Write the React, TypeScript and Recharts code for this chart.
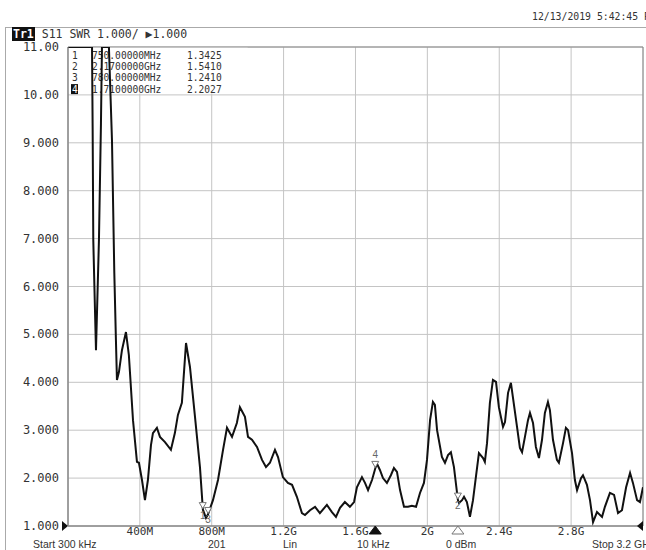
import React from "react";
import {
  LineChart,
  Line,
  XAxis,
  YAxis,
  CartesianGrid,
  ReferenceArea,
  ReferenceDot,
} from "recharts";

// Frequency (GHz) of each read trace point
const freqGHz = [
  0.0003, 0.134, 0.1375, 0.141, 0.15, 0.156, 0.1725, 0.1837, 0.1893, 0.228,
  0.245, 0.258, 0.267, 0.2727, 0.284, 0.3005, 0.3228, 0.339, 0.362, 0.384,
  0.395, 0.412, 0.4285, 0.445, 0.462, 0.473, 0.495, 0.512, 0.54, 0.573,
  0.595, 0.612, 0.634, 0.657, 0.679, 0.707, 0.7346, 0.751, 0.768, 0.779,
  0.807, 0.835, 0.863, 0.885, 0.913, 0.94, 0.957, 0.985, 1.002, 1.024,
  1.052, 1.08, 1.102, 1.124, 1.152, 1.169, 1.196, 1.224, 1.247, 1.274,
  1.302, 1.319, 1.347, 1.375, 1.402, 1.441, 1.469, 1.4915, 1.514, 1.541,
  1.569, 1.592, 1.608, 1.636, 1.653, 1.67, 1.692, 1.71, 1.72, 1.736,
  1.753, 1.775, 1.797, 1.814, 1.831, 1.848, 1.87, 1.892, 1.914, 1.937,
  1.959, 1.981, 1.998, 2.015, 2.031, 2.042, 2.054, 2.081, 2.098, 2.115,
  2.131, 2.148, 2.17, 2.176, 2.193, 2.204, 2.22, 2.237, 2.254, 2.27,
  2.287, 2.31, 2.32, 2.332, 2.348, 2.365, 2.382, 2.398, 2.421, 2.432,
  2.449, 2.465, 2.476, 2.499, 2.515, 2.527, 2.543, 2.56, 2.571, 2.588,
  2.604, 2.621, 2.638, 2.654, 2.671, 2.682, 2.699, 2.721, 2.732, 2.755,
  2.771, 2.783, 2.805, 2.821, 2.833, 2.855, 2.866, 2.888, 2.905, 2.922,
  2.944, 2.972, 2.988, 3.016, 3.039, 3.061, 3.083, 3.106, 3.128, 3.144,
  3.167, 3.183, 3.2,
];

// SWR values (display clamps at 11.00)
const swr = [
  11, 11, 9.27, 6.97, 5.57, 4.67, 6.97, 9.41, 11, 11,
  9.06, 6.28, 4.88, 4.05, 4.22, 4.67, 5.05, 4.57, 3.21, 2.34,
  2.32, 1.96, 1.54, 1.96, 2.69, 2.94, 3.05, 2.86, 2.75, 2.59,
  2.94, 3.32, 3.57, 4.82, 4.32, 3.28, 2.23, 1.34, 1.17, 1.24,
  1.54, 1.96, 2.59, 3.05, 2.86, 3.15, 3.48, 3.28, 2.86, 2.8,
  2.65, 2.38, 2.23, 2.32, 2.59, 2.44, 2.02, 1.9, 1.86, 1.61,
  1.27, 1.23, 1.33, 1.4, 1.27, 1.44, 1.29, 1.19, 1.38, 1.5,
  1.4, 1.5, 1.81, 2.02, 1.9, 1.75, 1.96, 2.2, 2.3, 2.17,
  2.0, 1.9, 2.06, 2.21, 2.13, 1.75, 1.4, 1.4, 1.42, 1.4,
  1.69, 1.9, 2.38, 3.21, 3.59, 3.53, 3.0, 2.44, 2.32, 2.48,
  2.54, 2.23, 1.54, 1.48, 1.54, 1.61, 1.5, 1.19, 1.54, 2.02,
  2.52, 2.42, 2.34, 2.73, 3.57, 4.05, 4.01, 3.48, 3.07, 3.17,
  3.78, 3.99, 3.69, 3.07, 2.63, 2.54, 2.86, 3.21, 3.36, 3.15,
  2.65, 2.42, 2.8, 3.36, 3.59, 3.42, 2.8, 2.38, 2.32, 2.73,
  3.05, 3.0, 2.52, 1.96, 1.75, 2.0, 2.06, 1.86, 1.54, 1.08,
  1.29, 1.19, 1.4, 1.69, 1.65, 1.27, 1.33, 1.81, 2.11, 1.9,
  1.54, 1.5, 1.81,
];

// Markers
const markerIds = ["1", "2", "3", "4"];
const markerFreqGHz = [0.75, 2.17, 0.78, 1.71];
const markerSwr = [1.3425, 1.541, 1.241, 2.2027];

// Axis ticks
const xTicks = [0.4, 0.8, 1.2, 1.6, 2.0, 2.4, 2.8];
const xTickLabels = ["400M", "800M", "1.2G", "1.6G", "2G", "2.4G", "2.8G"];
const yTicks = [1, 2, 3, 4, 5, 6, 7, 8, 9, 10, 11];
const yTickLabels = [
  "1.000", "2.000", "3.000", "4.000", "5.000", "6.000",
  "7.000", "8.000", "9.000", "10.00", "11.00",
];

// Header / footer texts
const headerTrace = "Tr1";
const headerText = "S11 SWR 1.000/ \u25B61.000";
const dateText = "12/13/2019 5:42:45 PM";
const footerTexts = ["Start 300 kHz", "201", "Lin", "10 kHz", "0 dBm", "Stop 3.2 GHz"];

const data = freqGHz.map((f, i) => ({ f, swr: swr[i] }));

const MONO = "'DejaVu Sans Mono', 'Liberation Mono', monospace";
const SANS = "'Liberation Sans', Arial, sans-serif";

const fmtFreq = (f: number) =>
  f < 1 ? (f * 1000).toFixed(5) + "MHz" : f.toFixed(7) + "GHz";

const YTick = (props: any) => {
  const { x, y, payload } = props;
  const i = yTicks.indexOf(payload.value);
  return (
    <g>
      <text
        x={x - 1}
        y={y}
        textAnchor="end"
        dominantBaseline="central"
        fontFamily={MONO}
        fontSize={12}
        fill="#333"
      >
        {yTickLabels[i]}
      </text>
      {payload.value === 1 ? (
        <polygon
          points={`${x + 2},${y - 5} ${x + 8},${y} ${x + 2},${y + 5}`}
          fill="#111"
        />
      ) : null}
    </g>
  );
};

const TableLabel = (props: any) => {
  const vb = props.viewBox || {};
  const x0 = vb.x;
  const y0 = vb.y;
  return (
    <g fontFamily={MONO} fontSize={9.6} fill="#333">
      {markerIds.map((id, i) => {
        const ty = y0 + 8.5 + i * 11.2;
        const active = i === 3;
        return (
          <g key={id}>
            {active ? (
              <rect x={x0 + 3} y={ty - 5} width={7} height={10} fill="#111" />
            ) : null}
            <text
              x={x0 + 4}
              y={ty}
              dominantBaseline="central"
              fill={active ? "#fff" : "#333"}
            >
              {id}
            </text>
            <text x={x0 + 24} y={ty} dominantBaseline="central">
              {fmtFreq(markerFreqGHz[i])}
            </text>
            <text x={x0 + 119} y={ty} dominantBaseline="central">
              {markerSwr[i].toFixed(4)}
            </text>
          </g>
        );
      })}
    </g>
  );
};

const makeMarkerShape = (id: string, above: boolean) => (props: any) => {
  const { cx, cy } = props;
  return (
    <g>
      <polygon
        points={`${cx - 3.5},${cy - 7} ${cx + 3.5},${cy - 7} ${cx},${cy - 1}`}
        fill="#fff"
        stroke="#777"
        strokeWidth={1}
      />
      <text
        x={cx}
        y={above ? cy - 10 : cy + 9}
        textAnchor="middle"
        fontFamily={SANS}
        fontSize={10}
        fill="#666"
      >
        {id}
      </text>
    </g>
  );
};

const makeAxisTriangle = (filled: boolean) => (props: any) => {
  const { cx, cy } = props;
  return (
    <polygon
      points={`${cx},${cy} ${cx - 6},${cy + 8} ${cx + 6},${cy + 8}`}
      fill={filled ? "#111" : "#fff"}
      stroke={filled ? "#111" : "#777"}
      strokeWidth={1}
    />
  );
};

const RightTriangle = (props: any) => {
  const { cx, cy } = props;
  return (
    <polygon points={`${cx},${cy - 5} ${cx - 6},${cy} ${cx},${cy + 5}`} fill="#111" />
  );
};

export default function App() {
  const footerX = [33, 208, 283, 357, 446, 592];
  return (
    <div
      style={{
        position: "absolute",
        left: 0,
        top: 0,
        width: 646,
        height: 550,
        overflow: "hidden",
        background: "#fff",
      }}
    >
      <div
        style={{
          position: "absolute",
          left: 5,
          top: 27,
          width: 641,
          height: 530,
          borderLeft: "1px solid #aaa",
          borderTop: "1px solid #aaa",
        }}
      />
      <div
        style={{
          position: "absolute",
          left: 532,
          top: 11,
          whiteSpace: "nowrap",
          fontFamily: MONO,
          fontSize: 9.8,
          color: "#333",
        }}
      >
        {dateText}
      </div>
      <div
        style={{
          position: "absolute",
          left: 12,
          top: 28,
          whiteSpace: "nowrap",
          fontFamily: MONO,
          fontSize: 11.5,
          color: "#333",
          lineHeight: "13px",
        }}
      >
        <span style={{ background: "#111", color: "#fff", fontWeight: "bold", padding: "0 1px" }}>
          {headerTrace}
        </span>{" "}
        {headerText}
      </div>
      <div style={{ position: "absolute", left: 0, top: 0 }}>
        <LineChart
          width={646}
          height={550}
          data={data}
          margin={{ top: 47, right: 3, bottom: 4, left: 0 }}
        >
          <CartesianGrid stroke="#c4c4c4" strokeWidth={1} />
          <XAxis
            dataKey="f"
            type="number"
            domain={[0.0003, 3.2]}
            ticks={xTicks}
            allowDataOverflow
            height={20}
            tickLine={false}
            tickSize={0}
            tickMargin={1}
            axisLine={{ stroke: "#888" }}
            tickFormatter={(v: number) => xTickLabels[xTicks.indexOf(v)] ?? ""}
            tick={{ fontFamily: MONO, fontSize: 11, fill: "#333" }}
            interval={0}
          />
          <YAxis
            type="number"
            domain={[1, 11]}
            ticks={yTicks}
            allowDataOverflow
            width={68}
            tickLine={false}
            tickSize={6}
            tickMargin={2}
            axisLine={{ stroke: "#888" }}
            tick={<YTick />}
            interval={0}
          />
          <ReferenceArea
            x1={0.0003}
            x2={1.0}
            y1={10.03}
            y2={11}
            fill="#fff"
            fillOpacity={1}
            stroke="none"
            label={<TableLabel />}
          />
          <ReferenceArea
            x1={0.0003}
            x2={3.2}
            y1={1}
            y2={11}
            fill="none"
            stroke="#888"
            strokeWidth={1}
          />
          <Line
            dataKey="swr"
            type="linear"
            stroke="#111"
            strokeWidth={2}
            dot={false}
            isAnimationActive={false}
          />
          {markerIds.map((id, i) => (
            <ReferenceDot
              key={"m" + id}
              x={markerFreqGHz[i]}
              y={markerSwr[i]}
              ifOverflow="visible"
              shape={makeMarkerShape(id, id === "4")}
            />
          ))}
          <ReferenceDot
            x={markerFreqGHz[3]}
            y={1}
            ifOverflow="visible"
            shape={makeAxisTriangle(true)}
          />
          <ReferenceDot
            x={markerFreqGHz[1]}
            y={1}
            ifOverflow="visible"
            shape={makeAxisTriangle(false)}
          />
          <ReferenceDot x={3.2} y={1} ifOverflow="visible" shape={<RightTriangle />} />
        </LineChart>
      </div>
      {footerTexts.map((t, i) => (
        <div
          key={t}
          style={{
            position: "absolute",
            left: footerX[i],
            top: 538,
            whiteSpace: "nowrap",
            fontFamily: SANS,
            fontSize: 10.5,
            color: "#333",
          }}
        >
          {t}
        </div>
      ))}
    </div>
  );
}
